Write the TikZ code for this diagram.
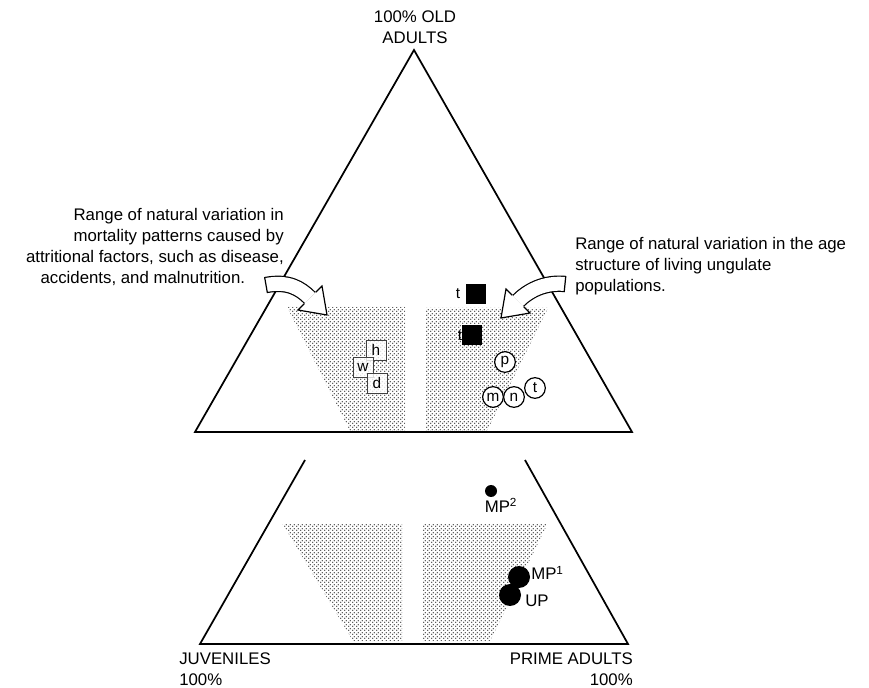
\documentclass[tikz,border=0pt]{standalone}
\usepackage{fontspec}
\setmainfont{Liberation Sans}
\usetikzlibrary{patterns}

% denser stipple than crosshatch dots
\pgfdeclarepatternformonly{stippledots}{\pgfpointorigin}{\pgfqpoint{2.6pt}{2.6pt}}{\pgfqpoint{2.6pt}{2.6pt}}{
  \pgfpathcircle{\pgfqpoint{0.65pt}{0.65pt}}{0.5pt}
  \pgfpathcircle{\pgfqpoint{1.95pt}{1.95pt}}{0.5pt}
  \pgfusepath{fill}
}

\tikzset{
  side/.style={line width=1.3pt},
  stipple/.style={pattern=stippledots, pattern color=black!85},
  lbl/.style={inner sep=0pt, font=\fontsize{12.6}{15.75}\selectfont},
  obox/.style={draw=black!75, line width=0.5pt, fill=white, fill opacity=0.8, text opacity=1, minimum size=15pt, inner sep=0pt, font=\fontsize{11.5}{12}\selectfont},
  fbox/.style={fill=black, minimum size=15.5pt, inner sep=0pt},
  ocirc/.style={circle, draw, line width=0.9pt, fill=white, minimum size=15.5pt, inner sep=0pt, font=\fontsize{11.5}{12}\selectfont},
  dot/.style={circle, fill=black, inner sep=0pt},
  bandline/.style={double=white, double distance=10.5pt, line width=0.9pt},
  bandedge/.style={line width=0.9pt, line join=miter, fill=white}
}

\begin{document}
\begin{tikzpicture}[x=0.75pt,y=0.75pt,yscale=-1,xscale=1]
\useasboundingbox (0,0) rectangle (869,688);

% corners of the two triangles
\coordinate (apex) at (414,50);
\coordinate (topL) at (195,432);
\coordinate (topR) at (632,432);
\coordinate (cutL) at (305,460);
\coordinate (cutR) at (525,460);
\coordinate (botL) at (200,644);
\coordinate (botR) at (628,644);

% Stippled ranges, upper
\fill [stipple] (287,307) -- (405,307) -- (405,431) -- (350,431) -- cycle;
\fill [stipple] (425,308) -- (548,308) -- (487,431) -- (425,431) -- cycle;
% Stippled ranges, lower
\fill [stipple] (282,523) -- (402,523) -- (402,641) -- (353,641) -- cycle;
\fill [stipple] (422,523) -- (548,523) -- (490,641) -- (422,641) -- cycle;

% Triangles
\draw [side] (apex) -- (topL) -- (topR) -- cycle;
\draw [side] (cutL) -- (botL) -- (botR) -- (cutR);

% Text Node
\node [lbl, align=center] (old) at (415,27) {100\% OLD\\ADULTS};
% Text Node
\node [lbl, anchor=north west, align=left] (juv) at (179,653) {JUVENILES\\100\%};
% Text Node
\node [lbl, anchor=north east, align=right] (prime) at (633,653) {PRIME ADULTS\\100\%};
% Text Node
\node [lbl, anchor=north east, align=right] (attr) at (284,208) {Range of natural variation in\\mortality patterns caused by\\attritional factors, such as disease,\\accidents, and malnutrition.\hspace*{29pt}};
% Text Node
\node [lbl, anchor=north west, align=left] (living) at (575,237) {Range of natural variation in the age\\structure of living ungulate\\populations.};

% Curved arrow, left
\coordinate (lt1) at (267.4,292.9);
\coordinate (lt2) at (264.6,277.1);
\coordinate (le1) at (315.7,292.3);
\coordinate (le2) at (304.3,303.7);
\coordinate (lb1) at (322.0,286.0);
\coordinate (lb2) at (298.0,310.0);
\coordinate (ltip) at (327.0,315.0);
\draw [bandline] (266,285) .. controls (288,281) and (300,288) .. (310,298);
\draw [line width=0.9pt] (lt1) -- (lt2);
\draw [bandedge] (le1) -- (lb1) -- (ltip) -- (lb2) -- (le2);

% Curved arrow, right
\coordinate (rt1) at (565.8,276.0);
\coordinate (rt2) at (564.2,292.0);
\coordinate (re1) at (523.7,306.7);
\coordinate (re2) at (512.3,295.3);
\coordinate (rb1) at (530.0,313.0);
\coordinate (rb2) at (506.0,289.0);
\coordinate (rtip) at (501.0,318.0);
\draw [bandline] (565,284) .. controls (544,282) and (528,291) .. (518,301);
\draw [line width=0.9pt] (rt1) -- (rt2);
\draw [bandedge] (re1) -- (rb1) -- (rtip) -- (rb2) -- (re2);

% Attritional samples
\node [obox] (h) at (376,350) {h};
\node [obox] (w) at (363,367) {w};
\node [obox] (d) at (377,383) {d};

% Living samples
\node [lbl, font=\fontsize{11.5}{12}\selectfont] (tA) at (458,294) {t};
\node [fbox] (sqA) at (476,294) {};
\node [lbl, font=\fontsize{11.5}{12}\selectfont] (tB) at (460,336) {t};
\node [fbox] (sqB) at (472,335) {};
\node [ocirc] (p) at (505,362) {p};
\node [ocirc] (m) at (493,397) {m};
\node [ocirc] (n) at (514,397) {n};
\node [ocirc] (t) at (535,388) {t};

% Fossil samples
\node [dot, minimum size=9pt] (mp2) at (491,491) {};
\node [lbl, anchor=north] (mp2lbl) at (501,498) {MP\textsuperscript{2}};
\node [dot, minimum size=16.5pt] (mp1) at (519,577) {};
\node [dot, minimum size=16.5pt] (up) at (510,595) {};
\node [lbl, anchor=west] (mp1lbl) at (531,573) {MP\textsuperscript{1}};
\node [lbl, anchor=west] (uplbl) at (525,601) {UP};

\end{tikzpicture}
\end{document}
